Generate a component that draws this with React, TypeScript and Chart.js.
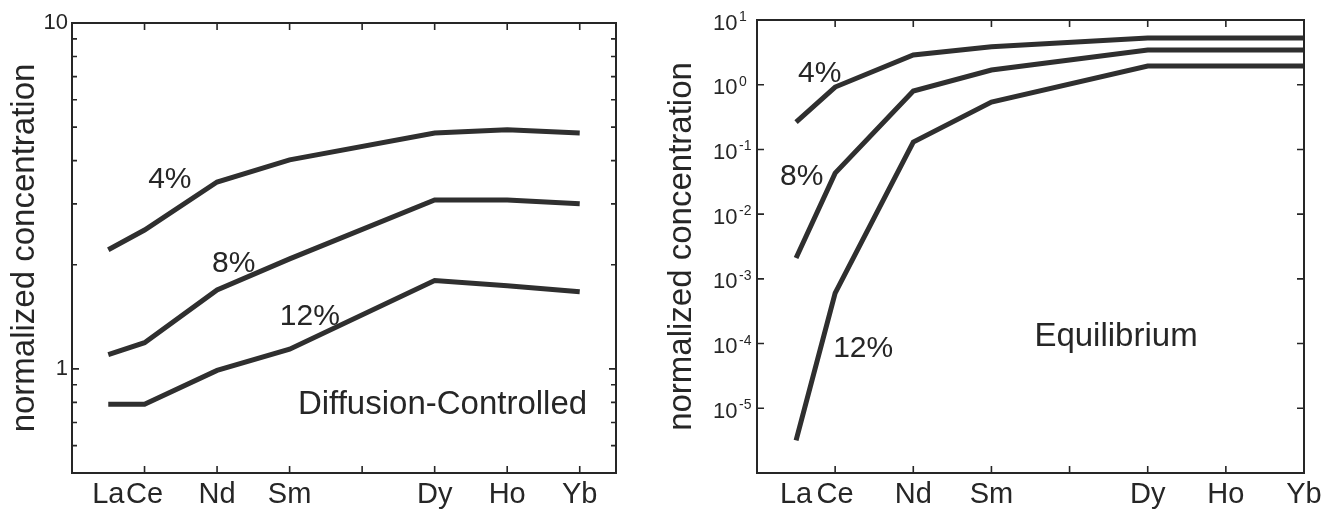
import React, { useEffect, useRef } from 'react';
import { Chart, registerables } from 'chart.js';

Chart.register(...registerables);

// ---------- data ----------
const elements = ['La', 'Ce', 'Nd', 'Sm', 'Dy', 'Ho', 'Yb'];
const elementX = [57, 58, 60, 62, 66, 68, 70];
const axisTickX = [58, 60, 62, 64, 66, 68, 70];
const seriesNames = ['4%', '8%', '12%'];

// Diffusion-controlled panel
const diffusion4 = [2.21, 2.52, 3.47, 4.02, 4.81, 4.91, 4.81];
const diffusion8 = [1.1, 1.19, 1.69, 2.08, 3.08, 3.08, 3.0];
const diffusion12 = [0.79, 0.79, 0.99, 1.14, 1.8, 1.74, 1.67];

// Equilibrium panel
const equilibrium4 = [0.265, 0.92, 2.88, 3.85, 5.27, 5.27, 5.27];
const equilibrium8 = [0.0021, 0.043, 0.8, 1.69, 3.44, 3.44, 3.44];
const equilibrium12 = [3.2e-6, 6.0e-4, 0.13, 0.54, 1.95, 1.95, 1.95];

const leftYTicks = [0.5, 0.6, 0.7, 0.8, 0.9, 1, 2, 3, 4, 5, 6, 7, 8, 9, 10];
const leftYLabelled = [1, 10];
const rightYDecades = [-6, -5, -4, -3, -2, -1, 0, 1];
const rightYLabelled = [-5, -4, -3, -2, -1, 0, 1];

const yTitle = 'normalized concentration';
const leftPanelName = 'Diffusion-Controlled';
const rightPanelName = 'Equilibrium';

// ---------- style ----------
const FONT = "'Liberation Sans', Arial, Helvetica, sans-serif";
const INK = '#262626';
const LINE = '#2f2f2f';

const xTickValues = [elementX[0], ...axisTickX];
const xLabelFor = (v: number) => {
  const i = elementX.indexOf(v);
  return i >= 0 ? elements[i] : '';
};

const toPoints = (vals: number[]) => elementX.map((x, i) => ({ x, y: vals[i] }));

const makeDatasets = (series: number[][]) =>
  series.map((vals, i) => ({
    label: seriesNames[i],
    data: toPoints(vals),
    borderColor: LINE,
    borderWidth: 5,
    pointRadius: 0,
    tension: 0,
    fill: false,
  }));

// frame + inward ticks on all four sides
const frameTicks = {
  id: 'frameTicks',
  afterDatasetsDraw(chart: any, _args: any, opts: any) {
    const { ctx, chartArea: a, scales } = chart;
    const x = scales.x;
    const y = scales.y;
    ctx.save();
    ctx.strokeStyle = INK;
    ctx.lineWidth = 1.6;
    ctx.beginPath();
    for (const v of axisTickX) {
      const px = x.getPixelForValue(v);
      ctx.moveTo(px, a.bottom);
      ctx.lineTo(px, a.bottom - 7);
      ctx.moveTo(px, a.top);
      ctx.lineTo(px, a.top + 7);
    }
    for (const t of y.ticks) {
      const py = y.getPixelForValue(t.value);
      const len = opts.isMajor(t.value) ? 7 : 5;
      ctx.moveTo(a.left, py);
      ctx.lineTo(a.left + len, py);
      ctx.moveTo(a.right, py);
      ctx.lineTo(a.right - len, py);
    }
    ctx.stroke();
    ctx.lineWidth = 2;
    ctx.strokeRect(a.left, a.top, a.right - a.left, a.bottom - a.top);
    ctx.restore();
  },
};

// text annotations anchored in data space
const notes = {
  id: 'notes',
  afterDraw(chart: any, _args: any, opts: any) {
    const { ctx, scales } = chart;
    ctx.save();
    ctx.fillStyle = INK;
    ctx.textAlign = 'left';
    ctx.textBaseline = 'alphabetic';
    for (const n of opts.items) {
      ctx.font = `${n.size}px ${FONT}`;
      ctx.fillText(n.text, scales.x.getPixelForValue(n.x), scales.y.getPixelForValue(n.y));
    }
    ctx.restore();
  },
};

// power-of-ten labels with superscript exponents
const powerLabels = {
  id: 'powerLabels',
  afterDraw(chart: any) {
    const { ctx, chartArea: a, scales } = chart;
    ctx.save();
    ctx.fillStyle = INK;
    ctx.textAlign = 'left';
    ctx.textBaseline = 'alphabetic';
    for (const d of rightYLabelled) {
      const py = scales.y.getPixelForValue(Math.pow(10, d));
      const x0 = a.left - 44;
      ctx.font = `22px ${FONT}`;
      ctx.fillText('10', x0, py + 9.5);
      const w = ctx.measureText('10').width;
      ctx.font = `14px ${FONT}`;
      ctx.fillText(String(d), x0 + w + 1.5, py + 1);
    }
    ctx.restore();
  },
};

const xScale = (max: number): any => ({
  type: 'linear',
  min: 56,
  max,
  grid: { display: false },
  border: { display: false },
  afterBuildTicks: (s: any) => {
    s.ticks = xTickValues.map((v) => ({ value: v }));
  },
  afterFit: (s: any) => {
    s.height = 42;
  },
  ticks: {
    autoSkip: false,
    maxRotation: 0,
    padding: -3,
    color: INK,
    font: { family: FONT, size: 29 },
    callback: (v: number) => xLabelFor(v),
  },
});

const leftConfig = (): any => ({
  type: 'line',
  data: { datasets: makeDatasets([diffusion4, diffusion8, diffusion12]) },
  options: {
    responsive: false,
    animation: false,
    devicePixelRatio: 1,
    layout: { padding: { left: 0, right: 44, top: 23, bottom: 0 } },
    plugins: {
      legend: { display: false },
      tooltip: { enabled: false },
      frameTicks: { isMajor: (v: number) => leftYLabelled.includes(v) },
      notes: {
        items: [
          { text: seriesNames[0], x: 58.1, y: 3.34, size: 30 },
          { text: seriesNames[1], x: 59.86, y: 1.91, size: 30 },
          { text: seriesNames[2], x: 61.73, y: 1.34, size: 30 },
          { text: leftPanelName, x: 62.23, y: 0.741, size: 33 },
        ],
      },
    },
    scales: {
      x: xScale(71),
      y: {
        type: 'logarithmic',
        min: 0.5,
        max: 10,
        grid: { display: false },
        border: { display: false },
        afterBuildTicks: (s: any) => {
          s.ticks = leftYTicks.map((v) => ({ value: v }));
        },
        afterFit: (s: any) => {
          s.width = 72;
        },
        ticks: {
          autoSkip: false,
          padding: -4,
          color: INK,
          font: { family: FONT, size: 22 },
          callback: (v: number) => (leftYLabelled.includes(v) ? String(v) : ''),
        },
        title: {
          display: true,
          text: yTitle,
          color: INK,
          font: { family: FONT, size: 33 },
          padding: { top: 5, bottom: 0 },
        },
      },
    },
  },
  plugins: [frameTicks, notes],
});

const rightConfig = (): any => ({
  type: 'line',
  data: { datasets: makeDatasets([equilibrium4, equilibrium8, equilibrium12]) },
  options: {
    responsive: false,
    animation: false,
    devicePixelRatio: 1,
    layout: { padding: { left: 0, right: 35, top: 20, bottom: 0 } },
    plugins: {
      legend: { display: false },
      tooltip: { enabled: false },
      frameTicks: { isMajor: () => true },
      notes: {
        items: [
          { text: seriesNames[0], x: 57.05, y: 1.1, size: 30 },
          { text: seriesNames[1], x: 56.59, y: 0.028, size: 30 },
          { text: seriesNames[2], x: 57.95, y: 6.2e-5, size: 30 },
          { text: rightPanelName, x: 63.1, y: 9.1e-5, size: 33 },
        ],
      },
    },
    scales: {
      x: xScale(70),
      y: {
        type: 'logarithmic',
        min: 1e-6,
        max: 10,
        grid: { display: false },
        border: { display: false },
        afterBuildTicks: (s: any) => {
          s.ticks = rightYDecades.map((d) => ({ value: Math.pow(10, d) }));
        },
        afterFit: (s: any) => {
          s.width = 97;
        },
        ticks: { display: false, autoSkip: false },
        title: {
          display: true,
          text: yTitle,
          color: INK,
          font: { family: FONT, size: 33 },
          padding: { top: 2, bottom: 0 },
        },
      },
    },
  },
  plugins: [frameTicks, notes, powerLabels],
});

function Panel({ makeConfig, left, width }: { makeConfig: () => any; left: number; width: number }) {
  const ref = useRef<HTMLCanvasElement>(null);
  useEffect(() => {
    const chart = new Chart(ref.current as HTMLCanvasElement, makeConfig());
    return () => chart.destroy();
  }, []);
  return (
    <canvas
      ref={ref}
      width={width}
      height={515}
      style={{ position: 'absolute', left, top: 0, width, height: 515, display: 'block' }}
    />
  );
}

export default function App() {
  return (
    <div style={{ position: 'absolute', left: 0, top: 0, width: 1339, height: 515, background: '#fff', overflow: 'hidden' }}>
      <Panel makeConfig={leftConfig} left={0} width={660} />
      <Panel makeConfig={rightConfig} left={660} width={679} />
    </div>
  );
}
